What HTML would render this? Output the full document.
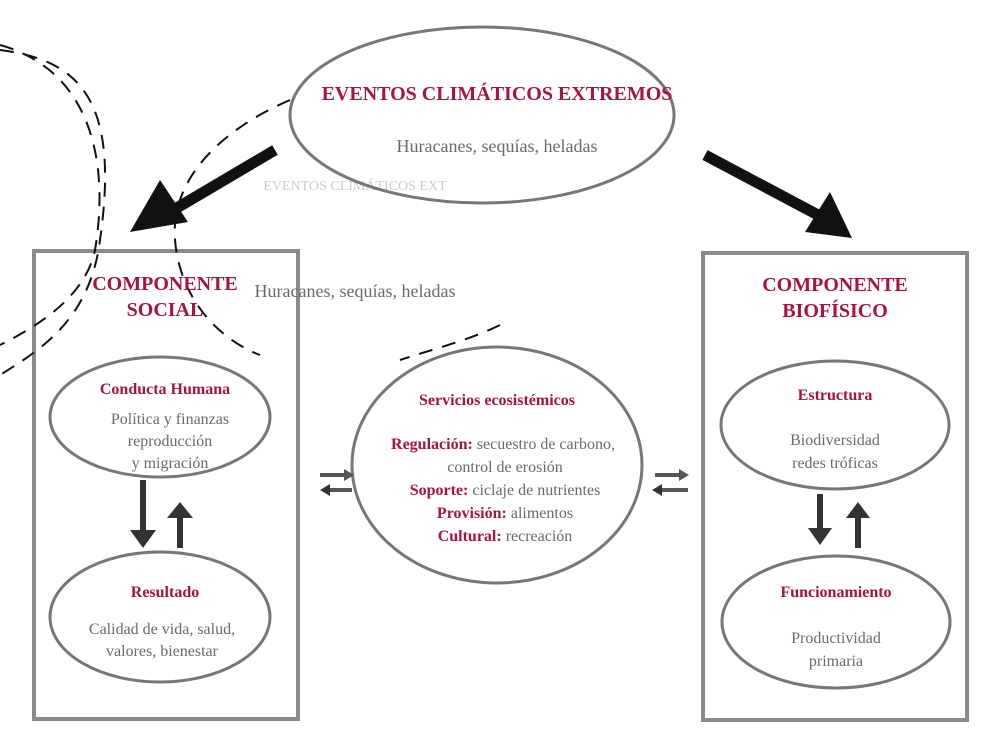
<!DOCTYPE html>
<html><head><meta charset="utf-8"><style>
html,body{margin:0;padding:0;background:#fff;width:1000px;height:750px;overflow:hidden}
svg{display:block}
.t{font-family:"Liberation Serif",serif;fill:#a8153c;font-weight:bold}
.g{font-family:"Liberation Serif",serif;fill:#6a6a6a}
</style></head><body>
<svg width="1000" height="750" viewBox="0 0 1000 750" xmlns="http://www.w3.org/2000/svg">
<rect width="1000" height="750" fill="#fff"/>
<!-- boxes -->
<rect x="34" y="251" width="264" height="468" fill="none" stroke="#8a8a8a" stroke-width="4"/>
<rect x="703" y="253" width="264" height="467" fill="none" stroke="#8a8a8a" stroke-width="4"/>
<!-- top ellipse -->
<ellipse cx="482" cy="115" rx="192" ry="88" fill="none" stroke="#777" stroke-width="3"/>
<text class="t" x="497" y="100" font-size="20" text-anchor="middle">EVENTOS CLIMÁTICOS EXTREMOS</text>
<text class="g" x="497" y="152" font-size="18" text-anchor="middle">Huracanes, sequías, heladas</text>
<!-- faint ghost text -->
<text class="g" x="355" y="190" font-size="14" text-anchor="middle" fill-opacity="0.35">EVENTOS CLIMÁTICOS EXT</text>
<text class="g" x="355" y="297" font-size="18" text-anchor="middle" fill="#333">Huracanes, sequías, heladas</text>
<!-- big arrows -->
<line x1="275" y1="150" x2="170" y2="212" stroke="#111" stroke-width="11"/>
<polygon points="130,232 160,180 188,222" fill="#111"/>
<line x1="705" y1="155" x2="818" y2="215" stroke="#111" stroke-width="11"/>
<polygon points="852,238 805,232 830,192" fill="#111"/>
<!-- dashed curves -->
<g fill="none" stroke="#111" stroke-width="2" stroke-dasharray="14,10">
<path d="M0,50 C80,60 120,100 100,240 C90,320 40,350 0,375"/>
<path d="M0,45 C90,70 110,160 95,250 C85,300 30,330 0,345"/>
<path d="M290,100 C220,130 170,180 175,240 C180,300 220,340 260,355"/>
<path d="M500,325 C470,340 430,350 400,360"/>
</g>
<!-- left component -->
<text class="t" x="165" y="290" font-size="20" text-anchor="middle">COMPONENTE</text>
<text class="t" x="165" y="316" font-size="20" text-anchor="middle">SOCIAL</text>
<ellipse cx="160" cy="417" rx="110" ry="60" fill="none" stroke="#777" stroke-width="3"/>
<text class="t" x="165" y="394" font-size="16" text-anchor="middle">Conducta Humana</text>
<text class="g" x="170" y="424" font-size="16" text-anchor="middle">Política y finanzas</text>
<text class="g" x="170" y="446" font-size="16" text-anchor="middle">reproducción</text>
<text class="g" x="170" y="468" font-size="16" text-anchor="middle">y migración</text>
<ellipse cx="160" cy="617" rx="110" ry="65" fill="none" stroke="#777" stroke-width="3"/>
<text class="t" x="165" y="597" font-size="16" text-anchor="middle">Resultado</text>
<text class="g" x="162" y="634" font-size="16" text-anchor="middle">Calidad de vida, salud,</text>
<text class="g" x="162" y="656" font-size="16" text-anchor="middle">valores, bienestar</text>
<line x1="143" y1="480" x2="143" y2="532" stroke="#333" stroke-width="6"/>
<polygon points="130,530 156,530 143,548" fill="#333"/>
<line x1="180" y1="548" x2="180" y2="515" stroke="#333" stroke-width="6"/>
<polygon points="167,518 193,518 180,502" fill="#333"/>
<!-- right component -->
<text class="t" x="835" y="291" font-size="20" text-anchor="middle">COMPONENTE</text>
<text class="t" x="835" y="317" font-size="20" text-anchor="middle">BIOFÍSICO</text>
<ellipse cx="835" cy="425" rx="114" ry="64" fill="none" stroke="#777" stroke-width="3"/>
<text class="t" x="835" y="400" font-size="16" text-anchor="middle">Estructura</text>
<text class="g" x="835" y="445" font-size="16" text-anchor="middle">Biodiversidad</text>
<text class="g" x="835" y="468" font-size="16" text-anchor="middle">redes tróficas</text>
<ellipse cx="836" cy="622" rx="114" ry="66" fill="none" stroke="#777" stroke-width="3"/>
<text class="t" x="836" y="597" font-size="16" text-anchor="middle">Funcionamiento</text>
<text class="g" x="836" y="643" font-size="16" text-anchor="middle">Productividad</text>
<text class="g" x="836" y="666" font-size="16" text-anchor="middle">primaria</text>
<line x1="820" y1="494" x2="820" y2="530" stroke="#333" stroke-width="6"/>
<polygon points="808,528 832,528 820,545" fill="#333"/>
<line x1="858" y1="548" x2="858" y2="515" stroke="#333" stroke-width="6"/>
<polygon points="846,518 870,518 858,502" fill="#333"/>
<!-- middle ellipse -->
<ellipse cx="497" cy="465" rx="145" ry="118" fill="none" stroke="#777" stroke-width="3"/>
<text class="t" x="497" y="405" font-size="16" text-anchor="middle">Servicios ecosistémicos</text>
<text x="503" y="449" font-size="16" text-anchor="middle" font-family="Liberation Serif,serif"><tspan fill="#a8153c" font-weight="bold">Regulación:</tspan><tspan fill="#6a6a6a"> secuestro de carbono,</tspan></text>
<text class="g" x="505" y="472" font-size="16" text-anchor="middle">control de erosión</text>
<text x="505" y="495" font-size="16" text-anchor="middle" font-family="Liberation Serif,serif"><tspan fill="#a8153c" font-weight="bold">Soporte:</tspan><tspan fill="#6a6a6a"> ciclaje de nutrientes</tspan></text>
<text x="505" y="518" font-size="16" text-anchor="middle" font-family="Liberation Serif,serif"><tspan fill="#a8153c" font-weight="bold">Provisión:</tspan><tspan fill="#6a6a6a"> alimentos</tspan></text>
<text x="505" y="541" font-size="16" text-anchor="middle" font-family="Liberation Serif,serif"><tspan fill="#a8153c" font-weight="bold">Cultural:</tspan><tspan fill="#6a6a6a"> recreación</tspan></text>
<!-- side arrows -->
<g stroke="#555" stroke-width="4">
<line x1="320" y1="475" x2="345" y2="475"/><line x1="330" y1="490" x2="352" y2="490"/>
<line x1="655" y1="475" x2="680" y2="475"/><line x1="662" y1="490" x2="688" y2="490"/>
</g>
<polygon points="344,469 354,475 344,481" fill="#555"/>
<polygon points="330,484 320,490 330,496" fill="#333"/>
<polygon points="679,469 689,475 679,481" fill="#555"/>
<polygon points="662,484 652,490 662,496" fill="#333"/>
</svg>
</body></html>
